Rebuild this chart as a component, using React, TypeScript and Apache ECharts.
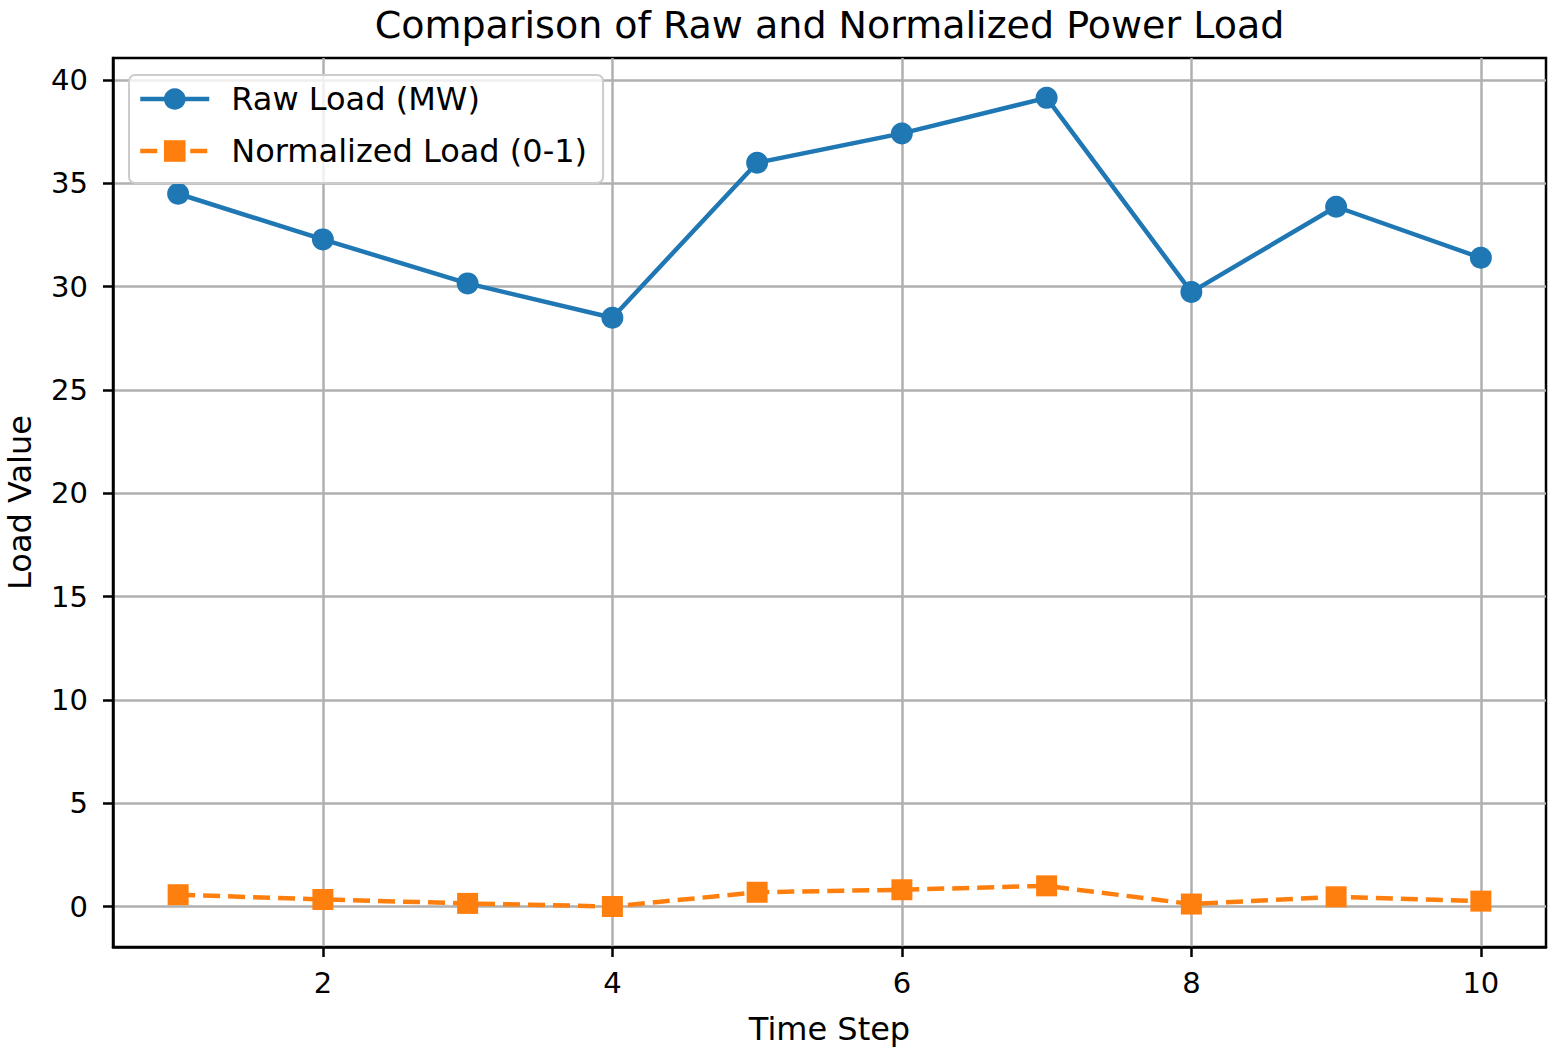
import React, { useEffect, useRef } from "react";
import * as echarts from "echarts";

const TITLE = "Comparison of Raw and Normalized Power Load";
const X_NAME = "Time Step";
const Y_NAME = "Load Value";
const timeSteps = [1, 2, 3, 4, 5, 6, 7, 8, 9, 10];
const rawLoad = [34.5, 32.29, 30.16, 28.5, 36.0, 37.42, 39.14, 29.74, 33.87, 31.4];
const normLoad = [0.57, 0.34, 0.15, 0.0, 0.69, 0.81, 1.0, 0.12, 0.47, 0.26];
const xTicks = [2, 4, 6, 8, 10];
const yTicks = [0, 5, 10, 15, 20, 25, 30, 35, 40];
const SERIES_NAMES = ["Raw Load (MW)", "Normalized Load (0-1)"];

const FONT = "DejaVu Sans";

export default function App() {
  const ref = useRef<HTMLDivElement>(null);
  useEffect(() => {
    const chart = echarts.init(ref.current!, null, { renderer: "svg" });
    const gridLeft = 113, gridTop = 58, gridRight = 6, gridBottom = 101;
    const plotCenterX = gridLeft + (1552 - gridLeft - gridRight) / 2;
    chart.setOption({
      animation: false,
      backgroundColor: "#ffffff",
      textStyle: { fontFamily: FONT },
      graphic: [
        {
          type: "text",
          x: plotCenterX,
          y: 25,
          style: {
            text: TITLE,
            font: `38px '${FONT}'`,
            fill: "#000",
            textAlign: "center",
            textVerticalAlign: "middle",
          },
        },
      ],
      grid: {
        left: gridLeft,
        top: gridTop,
        right: gridRight,
        bottom: gridBottom,
        outerBoundsMode: "none",
        containLabel: false,
        show: true,
        borderColor: "#000",
        borderWidth: 2.5,
        backgroundColor: "transparent",
      },
      legend: {
        orient: "vertical",
        left: 129,
        top: 75,
        padding: [8, 16, 16, 9],
        backgroundColor: "rgba(255,255,255,0.8)",
        borderColor: "#cccccc",
        borderWidth: 2,
        borderRadius: 6,
        itemWidth: 69,
        itemHeight: 27,
        itemGap: 20,
        lineStyle: { width: 4.5 },
        textStyle: {
          fontFamily: FONT,
          fontSize: 32,
          color: "#000",
          lineHeight: 30,
          padding: [0, 0, 0, 17],
        },
        data: SERIES_NAMES,
      },
      xAxis: {
        type: "value",
        min: 0.55,
        max: 10.45,
        name: X_NAME,
        nameLocation: "middle",
        nameGap: 66,
        nameTextStyle: { fontFamily: FONT, fontSize: 32, color: "#000" },
        axisLine: { show: true, onZero: false, lineStyle: { color: "#000", width: 2.5 } },
        axisTick: {
          show: true,
          inside: false,
          length: 10,
          lineStyle: { color: "#000", width: 2.5 },
          customValues: xTicks,
        },
        axisLabel: {
          show: true,
          margin: 21,
          fontFamily: FONT,
          fontSize: 29,
          color: "#000",
          customValues: xTicks,
          formatter: (v: number) => String(v),
        },
        splitLine: { show: true, lineStyle: { color: "#b0b0b0", width: 2.5 } },
      },
      yAxis: {
        type: "value",
        min: -1.96,
        max: 41.07,
        name: Y_NAME,
        nameLocation: "middle",
        nameGap: 77,
        nameRotate: 90,
        nameTextStyle: { fontFamily: FONT, fontSize: 32, color: "#000" },
        axisLine: { show: true, onZero: false, lineStyle: { color: "#000", width: 2.5 } },
        axisTick: {
          show: true,
          inside: false,
          length: 10,
          lineStyle: { color: "#000", width: 2.5 },
          customValues: yTicks,
        },
        axisLabel: {
          show: true,
          margin: 25,
          fontFamily: FONT,
          fontSize: 29,
          color: "#000",
          customValues: yTicks,
          formatter: (v: number) => String(v),
        },
        splitLine: { show: true, lineStyle: { color: "#b0b0b0", width: 2.5 } },
      },
      series: [
        {
          name: SERIES_NAMES[0],
          type: "line",
          data: timeSteps.map((t, i) => [t, rawLoad[i]]),
          symbol: "circle",
          symbolSize: 22,
          showAllSymbol: true,
          lineStyle: { color: "#1f77b4", width: 4.5 },
          itemStyle: { color: "#1f77b4" },
          z: 3,
        },
        {
          name: SERIES_NAMES[1],
          type: "line",
          data: timeSteps.map((t, i) => [t, normLoad[i]]),
          symbol: "rect",
          symbolSize: 21,
          showAllSymbol: true,
          lineStyle: { color: "#ff7f0e", width: 4.5, type: [17, 8] },
          itemStyle: { color: "#ff7f0e" },
          z: 3,
        },
      ],
    });
    return () => chart.dispose();
  }, []);
  return (
    <div
      ref={ref}
      style={{ position: "fixed", left: 0, top: 0, width: 1552, height: 1048 }}
    />
  );
}
